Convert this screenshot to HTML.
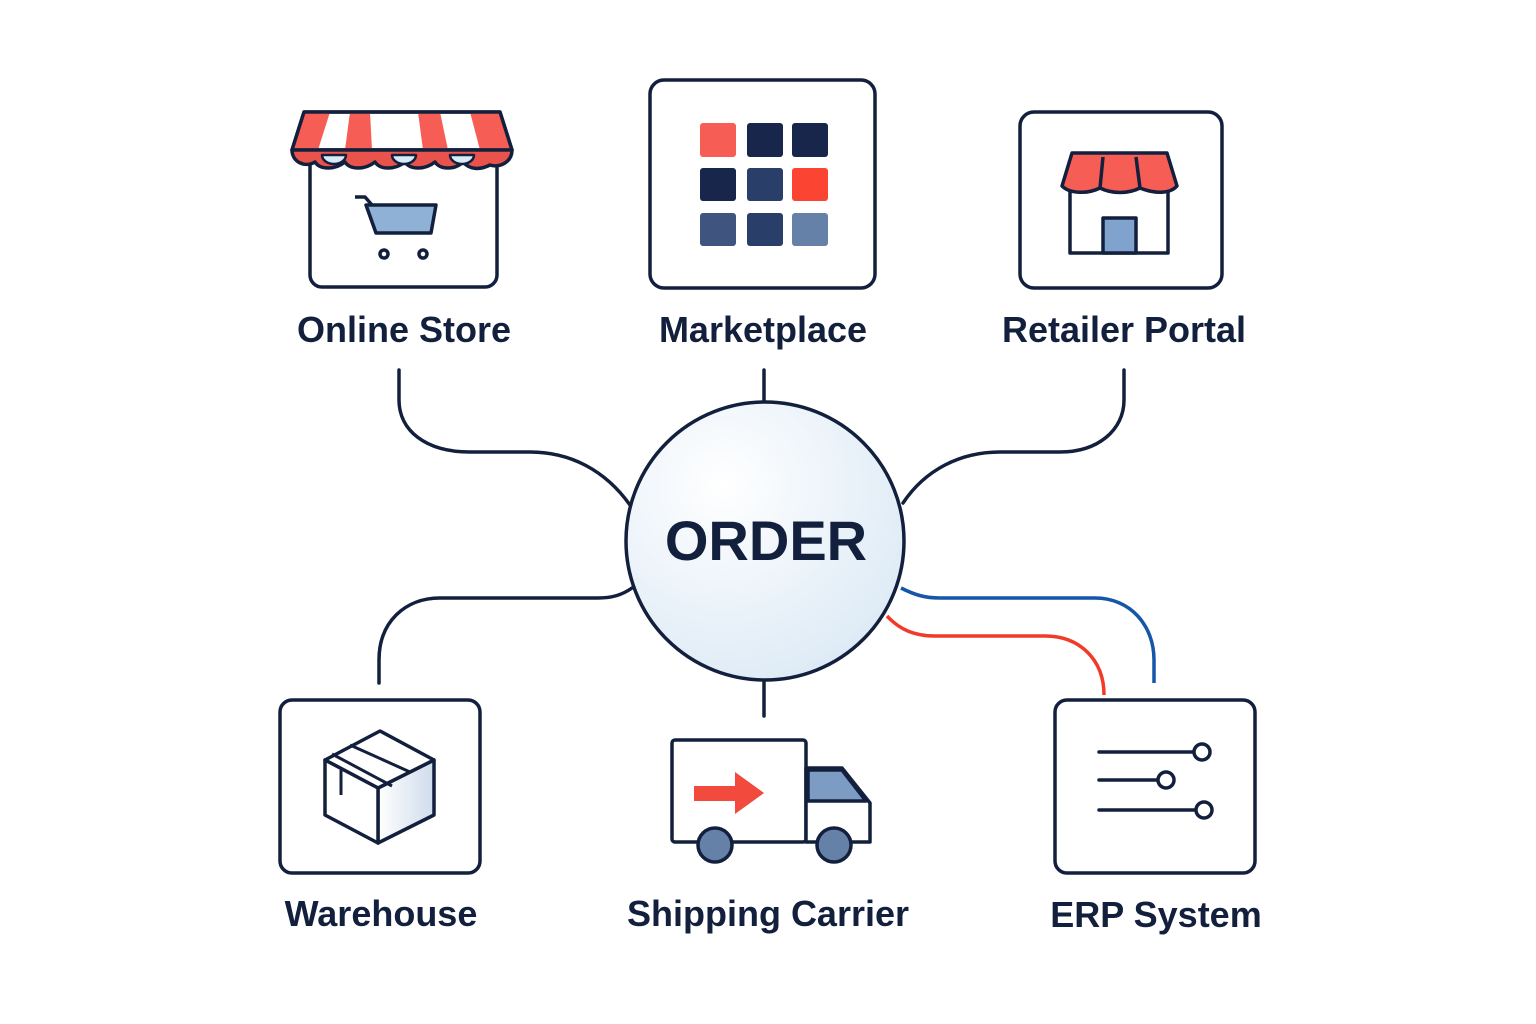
<!DOCTYPE html>
<html><head><style>body{margin:0;background:#fff}svg{display:block}</style></head><body>
<svg width="1536" height="1024" viewBox="0 0 1536 1024" xmlns="http://www.w3.org/2000/svg">
<defs><radialGradient id="g" cx="0.35" cy="0.3" r="0.8"><stop offset="0" stop-color="#ffffff"/><stop offset="1" stop-color="#dbe9f5"/></radialGradient>
<linearGradient id="bx" x1="0" y1="0" x2="1" y2="0"><stop offset="0" stop-color="#fff"/><stop offset="1" stop-color="#cfdcec"/></linearGradient></defs>
<g fill="none" stroke="#13203d" stroke-width="3.5" stroke-linecap="round">
<path d="M399 370 V400 C399 430 425 452 470 452 H530 C570 452 605 470 630 505"/>
<path d="M764 370 V403"/>
<path d="M1124 370 V400 C1124 430 1098 452 1060 452 H1000 C960 452 925 470 903 503"/>
<path d="M632 588 C622 595 612 598 598 598 H440 C405 598 379 622 379 660 V683"/>
<path d="M764 680 V716"/>
</g>
<path d="M901 588 C915 595 925 598 940 598 H1095 C1130 598 1154 625 1154 660 V683" fill="none" stroke="#1556a8" stroke-width="3.5"/>
<path d="M887 616 C900 630 915 636 935 636 H1045 C1080 636 1104 660 1104 695" fill="none" stroke="#f23a2a" stroke-width="3.5"/>
<circle cx="765" cy="541" r="139" fill="url(#g)" stroke="#13203d" stroke-width="3.5"/>
<text x="766" y="560" text-anchor="middle" font-family="Liberation Sans, sans-serif" font-weight="bold" font-size="56" fill="#13203d">ORDER</text>

<!-- Online store -->
<g stroke="#13203d" stroke-width="3.5" stroke-linejoin="round">
<rect x="310" y="150" width="187" height="137" rx="12" fill="#fff"/>
<path d="M304 112 H500 L512 150 H292 Z" fill="#fff"/>
<path d="M304 112 H330 L318 150 H292 Z M350 112 H370 L372 150 H345 Z M418 112 H440 L448 150 H423 Z M470 112 H500 L512 150 H480 Z" fill="#f65d55" stroke="none"/>
<path d="M304 112 H500 L512 150 H292 Z" fill="none"/>
<path d="M292 150 H512 C512 162 500 168 490 165 C480 170 470 170 463 162 C455 170 440 170 435 162 C425 170 410 170 405 162 C395 170 380 170 375 162 C365 170 350 170 345 162 C335 170 320 170 315 162 C305 168 292 162 292 150 Z" fill="#e9534b"/>
<path d="M322 155 a12 9 0 0 0 24 0Z M392 155 a12 9 0 0 0 24 0Z M450 155 a12 9 0 0 0 24 0Z" fill="#d7ecf8" stroke-width="2.5"/>
<path d="M355 197 H365 L372 205" fill="none"/>
<path d="M366 205 H436 L431 233 H376 Z" fill="#8fb1d6"/>
<circle cx="384" cy="254" r="4" fill="#fff"/><circle cx="423" cy="254" r="4" fill="#fff"/>
</g>

<!-- Marketplace -->
<rect x="650" y="80" width="225" height="208" rx="14" fill="#fff" stroke="#13203d" stroke-width="3.5"/>
<rect x="700" y="123" width="36" height="34" rx="3" fill="#f65d55"/>
<rect x="747" y="123" width="36" height="34" rx="3" fill="#17264a"/>
<rect x="792" y="123" width="36" height="34" rx="3" fill="#17264a"/>
<rect x="700" y="168" width="36" height="33" rx="3" fill="#17264a"/>
<rect x="747" y="168" width="36" height="33" rx="3" fill="#293f6a"/>
<rect x="792" y="168" width="36" height="33" rx="3" fill="#fb4431"/>
<rect x="700" y="213" width="36" height="33" rx="3" fill="#3f5580"/>
<rect x="747" y="213" width="36" height="33" rx="3" fill="#293f6a"/>
<rect x="792" y="213" width="36" height="33" rx="3" fill="#6581a8"/>

<!-- Retailer -->
<g stroke="#13203d" stroke-width="3.5" stroke-linejoin="round">
<rect x="1020" y="112" width="202" height="176" rx="14" fill="#fff"/>
<rect x="1070" y="185" width="98" height="68" fill="#fff"/>
<rect x="1103" y="218" width="33" height="35" fill="#7fa3cc"/>
<path d="M1072 153 H1167 L1177 186 C1170 194 1155 194 1140 188 C1128 194 1112 194 1100 188 C1088 194 1070 194 1062 186 Z" fill="#f65d55"/>
<path d="M1103 157 L1100 188 M1136 157 L1140 188" fill="none"/>
</g>

<!-- Warehouse -->
<g stroke="#13203d" stroke-width="3.5" stroke-linejoin="round">
<rect x="280" y="700" width="200" height="173" rx="12" fill="#fff"/>
<path d="M378 788 L434 760 V815 L378 843 Z" fill="url(#bx)"/>
<path d="M378 788 L434 760 L380 731 L325 760 Z" fill="#fff"/>
<path d="M325 760 V815 L378 843 V788 Z" fill="#fff"/>
<path d="M332 754 L392 786 M350 745 L410 772" fill="none" stroke-width="3"/>
<path d="M341 770 V795" fill="none" stroke-width="3"/>
</g>

<!-- Truck -->
<g stroke="#13203d" stroke-width="3.5" stroke-linejoin="round">
<rect x="672" y="740" width="134" height="102" rx="3" fill="#fff"/>
<path d="M806 768 H842 L870 803 V842 H806 Z" fill="#fff"/>
<path d="M808 770 H842 L866 801 H808 Z" fill="#7c9cc4"/>
<circle cx="715" cy="845" r="17" fill="#6581a8"/>
<circle cx="834" cy="845" r="17" fill="#6581a8"/>
</g>
<path d="M694 786 H735 V772 L764 793 L735 814 V801 H694 Z" fill="#f24b3e"/>

<!-- ERP -->
<g stroke="#13203d" stroke-width="3.5" stroke-linecap="round">
<rect x="1055" y="700" width="200" height="173" rx="12" fill="#fff"/>
<path d="M1099 752 H1193 M1099 780 H1157 M1099 810 H1195"/>
<circle cx="1202" cy="752" r="8" fill="#fff"/><circle cx="1166" cy="780" r="8" fill="#fff"/><circle cx="1204" cy="810" r="8" fill="#fff"/>
</g>

<g font-family="Liberation Sans, sans-serif" font-size="36" fill="#13203d" text-anchor="middle" font-weight="bold">
<text x="404" y="342">Online Store</text>
<text x="763" y="342">Marketplace</text>
<text x="1124" y="342">Retailer Portal</text>
<text x="381" y="926">Warehouse</text>
<text x="768" y="926">Shipping Carrier</text>
<text x="1156" y="927">ERP System</text>
</g>
</svg>
</body></html>
